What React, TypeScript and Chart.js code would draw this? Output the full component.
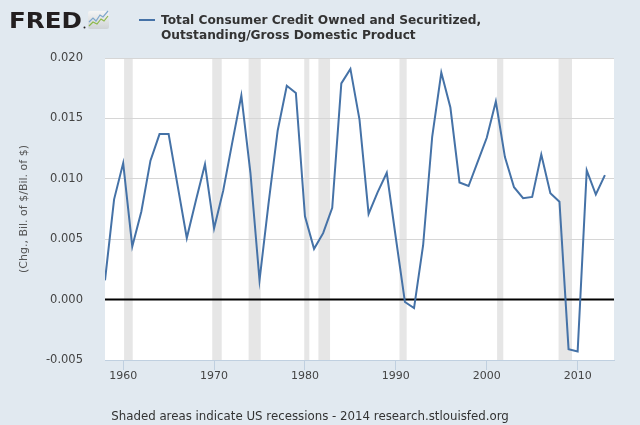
import React, { useEffect, useRef } from "react";
import { Chart, registerables } from "chart.js";

Chart.register(...registerables);

const years: number[] = [
  1958, 1959, 1960, 1961, 1962, 1963, 1964, 1965, 1966, 1967,
  1968, 1969, 1970, 1971, 1972, 1973, 1974, 1975, 1976, 1977,
  1978, 1979, 1980, 1981, 1982, 1983, 1984, 1985, 1986, 1987,
  1988, 1989, 1990, 1991, 1992, 1993, 1994, 1995, 1996, 1997,
  1998, 1999, 2000, 2001, 2002, 2003, 2004, 2005, 2006, 2007,
  2008, 2009, 2010, 2011, 2012, 2013,
];

const creditToGdp: number[] = [
  0.0016, 0.0083, 0.0113, 0.0044, 0.0073, 0.0115, 0.0137, 0.0137, 0.0094, 0.0051,
  0.0082, 0.0112, 0.0059, 0.009, 0.013, 0.0169, 0.0105, 0.0016, 0.008, 0.014,
  0.0177, 0.0171, 0.0069, 0.0042, 0.0055, 0.0076, 0.0179, 0.0191, 0.0149, 0.0071,
  0.0089, 0.0105, 0.0051, -0.0002, -0.0007, 0.0045, 0.0135, 0.0188, 0.0159, 0.0097,
  0.0094, 0.0114, 0.0134, 0.0164, 0.0118, 0.0093, 0.0084, 0.0085, 0.012, 0.0088,
  0.0081, -0.0041, -0.0043, 0.0107, 0.0087, 0.0103,
];

const recessionStart: number[] = [1960.1, 1969.8, 1973.8, 1979.92, 1981.48, 1990.4, 2001.14, 2007.9];
const recessionEnd: number[] = [1961.05, 1970.84, 1975.13, 1980.48, 1982.76, 1991.19, 2001.82, 2009.38];

const xTicks: number[] = [1960, 1970, 1980, 1990, 2000, 2010];
const yTicks: number[] = [-0.005, 0, 0.005, 0.01, 0.015, 0.02];

const legendLines: string[] = [
  "Total Consumer Credit Owned and Securitized,",
  "Outstanding/Gross Domestic Product",
];
const yTitle = "(Chg., Bil. of $/Bil. of $)";
const footer = "Shaded areas indicate US recessions - 2014 research.stlouisfed.org";

const BG = "#e1e9f0";
const LINE = "#4572a7";
const FONT = '"DejaVu Sans", Verdana, sans-serif';

const backgroundPlugin = {
  id: "fredBackground",
  beforeDraw(chart: any) {
    const { ctx, chartArea, scales } = chart;
    ctx.save();
    ctx.fillStyle = BG;
    ctx.fillRect(0, 0, chart.width, chart.height);
    ctx.fillStyle = "#ffffff";
    ctx.fillRect(chartArea.left, chartArea.top, chartArea.right - chartArea.left, chartArea.bottom - chartArea.top);
    ctx.fillStyle = "#e6e6e6";
    const xs = scales.x;
    for (let i = 0; i < recessionStart.length; i++) {
      const a = xs.getPixelForValue(recessionStart[i]);
      const b = xs.getPixelForValue(recessionEnd[i]);
      ctx.fillRect(a, chartArea.top, b - a, chartArea.bottom - chartArea.top);
    }
    ctx.restore();
  },
  beforeDatasetsDraw(chart: any) {
    const { ctx, chartArea, scales } = chart;
    const y0 = scales.y.getPixelForValue(0);
    ctx.save();
    ctx.strokeStyle = "#000000";
    ctx.lineWidth = 2;
    ctx.beginPath();
    ctx.moveTo(chartArea.left, y0);
    ctx.lineTo(chartArea.right, y0);
    ctx.stroke();
    ctx.restore();
  },
  afterDraw(chart: any) {
    const { ctx } = chart;
    ctx.save();
    // FRED logo
    ctx.fillStyle = "#231f20";
    ctx.font = `bold 22px ${FONT}`;
    ctx.textBaseline = "alphabetic";
    ctx.textAlign = "left";
    const w = ctx.measureText("FRED").width;
    ctx.save();
    ctx.translate(9, 28);
    ctx.scale(73 / w, 1);
    ctx.fillText("FRED", 0, 0);
    ctx.restore();
    ctx.beginPath();
    ctx.arc(84.5, 27.5, 1, 0, Math.PI * 2);
    ctx.fill();
    // icon
    const g = ctx.createLinearGradient(0, 11, 0, 29);
    g.addColorStop(0, "#f4f4f4");
    g.addColorStop(1, "#cfd3d6");
    ctx.fillStyle = g;
    ctx.beginPath();
    ctx.roundRect(88, 11, 21, 18, 2);
    ctx.fill();
    ctx.lineWidth = 1.2;
    ctx.strokeStyle = "#7fa7cc";
    ctx.beginPath();
    ctx.moveTo(89, 22); ctx.lineTo(93, 18); ctx.lineTo(96, 21); ctx.lineTo(100, 15); ctx.lineTo(103, 17); ctx.lineTo(108, 11);
    ctx.stroke();
    ctx.strokeStyle = "#8cb84a";
    ctx.beginPath();
    ctx.moveTo(89, 26); ctx.lineTo(93, 22); ctx.lineTo(97, 24); ctx.lineTo(101, 19); ctx.lineTo(104, 21); ctx.lineTo(108, 16);
    ctx.stroke();
    // legend
    ctx.strokeStyle = LINE;
    ctx.lineWidth = 2;
    ctx.beginPath();
    ctx.moveTo(139, 20);
    ctx.lineTo(155, 20);
    ctx.stroke();
    ctx.fillStyle = "#333333";
    ctx.font = `bold 12.2px ${FONT}`;
    ctx.fillText(legendLines[0], 161, 24);
    ctx.fillText(legendLines[1], 161, 39);
    // y title
    ctx.save();
    ctx.translate(27, 209);
    ctx.rotate(-Math.PI / 2);
    ctx.textAlign = "center";
    ctx.fillStyle = "#555555";
    ctx.font = `11px ${FONT}`;
    ctx.fillText(yTitle, 0, 0);
    ctx.restore();
    // footer
    ctx.textAlign = "center";
    ctx.fillStyle = "#333333";
    ctx.font = `11.8px ${FONT}`;
    ctx.fillText(footer, 310, 420);
    ctx.restore();
  },
};

export default function App() {
  const canvasRef = useRef<HTMLCanvasElement | null>(null);

  useEffect(() => {
    document.body.style.margin = "0";
    const canvas = canvasRef.current;
    if (!canvas) return;
    const points = years.map((yr, i) => ({ x: yr, y: creditToGdp[i] }));
    const chart = new Chart(canvas, {
      type: "line",
      data: {
        datasets: [
          {
            label: legendLines.join(" "),
            data: points,
            borderColor: LINE,
            borderWidth: 2,
            pointRadius: 0,
            tension: 0,
            fill: false,
          },
        ],
      },
      options: {
        animation: false,
        responsive: false,
        maintainAspectRatio: false,
        layout: { padding: { left: 0, right: 26, top: 58, bottom: 0 } },
        plugins: {
          legend: { display: false },
          tooltip: { enabled: false },
        },
        scales: {
          x: {
            type: "linear",
            min: 1958,
            max: 2014,
            afterBuildTicks: (s: any) => {
              s.ticks = xTicks.map((v) => ({ value: v }));
            },
            afterFit: (s: any) => {
              s.height = 65;
            },
            grid: {
              drawOnChartArea: false,
              drawTicks: true,
              tickLength: 10,
              color: "#c0d0e0",
            },
            border: { display: true, color: "#c0d0e0", width: 1 },
            ticks: {
              color: "#444444",
              font: { family: FONT, size: 11 },
              padding: 0,
              autoSkip: false,
              maxRotation: 0,
              callback: (v: any) => String(v),
            },
          },
          y: {
            min: -0.005,
            max: 0.02,
            afterBuildTicks: (s: any) => {
              s.ticks = yTicks.map((v) => ({ value: v }));
            },
            afterFit: (s: any) => {
              s.width = 105;
            },
            grid: {
              drawTicks: false,
              color: (c: any) => {
                const v = c.tick ? c.tick.value : 1;
                return Math.abs(v) < 1e-9 || v < -0.004 ? "rgba(0,0,0,0)" : "#d6d6d6";
              },
            },
            border: { display: false },
            ticks: {
              color: "#444444",
              font: { family: FONT, size: 11.5 },
              padding: 22,
              callback: (v: any) => Number(v).toFixed(3),
            },
          },
        },
      },
      plugins: [backgroundPlugin],
    } as any);
    return () => chart.destroy();
  }, []);

  return (
    <div style={{ width: 640, height: 425 }}>
      <canvas ref={canvasRef} width={640} height={425} style={{ display: "block" }} />
    </div>
  );
}
